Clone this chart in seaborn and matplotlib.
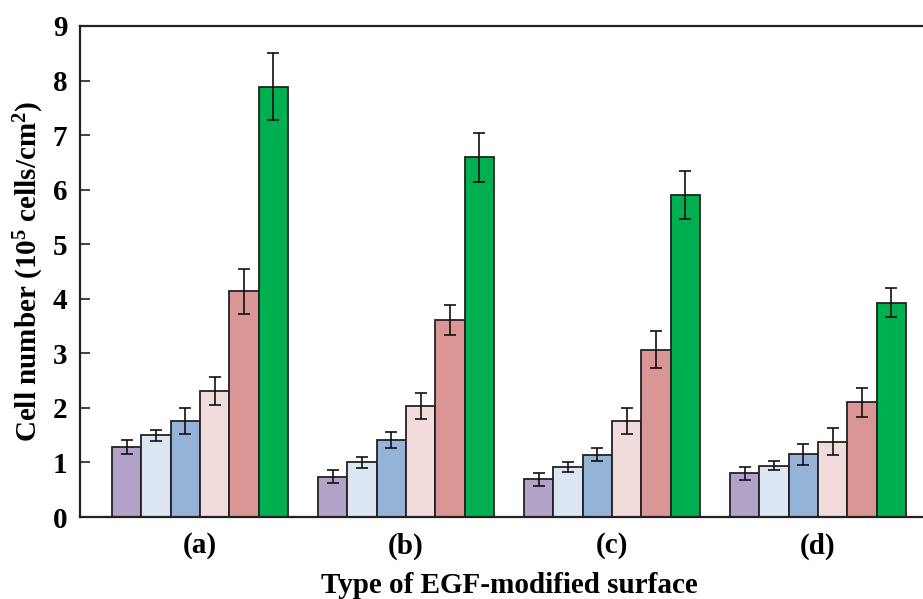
import matplotlib
matplotlib.use("Agg")
import matplotlib.pyplot as plt
import seaborn as sns
import pandas as pd

groups = ["(a)", "(b)", "(c)", "(d)"]
series = ["S1", "S2", "S3", "S4", "S5", "S6"]
colors = ["#b3a2c7", "#dce6f2", "#95b3d7", "#f2dcdb", "#d99694", "#00b050"]

values = {
    "S1": [1.29, 0.74, 0.69, 0.80],
    "S2": [1.50, 1.00, 0.91, 0.94],
    "S3": [1.76, 1.41, 1.14, 1.15],
    "S4": [2.31, 2.03, 1.76, 1.38],
    "S5": [4.14, 3.61, 3.07, 2.10],
    "S6": [7.89, 6.59, 5.91, 3.93],
}
errors = {
    "S1": [0.13, 0.125, 0.12, 0.125],
    "S2": [0.10, 0.10, 0.09, 0.08],
    "S3": [0.23, 0.14, 0.12, 0.195],
    "S4": [0.26, 0.24, 0.24, 0.25],
    "S5": [0.41, 0.28, 0.34, 0.26],
    "S6": [0.62, 0.455, 0.44, 0.265],
}
yticks = [0, 1, 2, 3, 4, 5, 6, 7, 8, 9]

sns.set_theme(style="white")
plt.rcParams["font.family"] = ["Liberation Serif", "DejaVu Serif"]
plt.rcParams["font.weight"] = "bold"
plt.rcParams["text.color"] = "black"
plt.rcParams["axes.labelcolor"] = "black"
plt.rcParams["xtick.color"] = "black"
plt.rcParams["ytick.color"] = "black"
plt.rcParams["mathtext.fontset"] = "custom"
plt.rcParams["mathtext.rm"] = "Liberation Serif:bold"
plt.rcParams["mathtext.bf"] = "Liberation Serif:bold"
plt.rcParams["mathtext.default"] = "bf"

rows = []
for s in series:
    for g, v in zip(groups, values[s]):
        rows.append({"group": g, "series": s, "value": v})
df = pd.DataFrame(rows)

fig = plt.figure(figsize=(9.23, 5.99), dpi=100)
ax = fig.add_axes([80 / 923, 82 / 599, 858 / 923, 491 / 599])

sns.barplot(data=df, x="group", y="value", hue="series", order=groups,
            hue_order=series, palette=colors, width=0.855, gap=0,
            edgecolor="#222222", linewidth=1.3, errorbar=None,
            legend=False, ax=ax, saturation=1)

for cont, s in zip(ax.containers, series):
    xs = [b.get_x() + b.get_width() / 2 for b in cont]
    ax.errorbar(xs, values[s], yerr=errors[s], fmt="none", ecolor="#111111",
                elinewidth=1.2, capsize=4, capthick=1.2, zorder=5)

ax.set_xlim(-0.583, 3.583)
ax.set_ylim(0, 9)
ax.set_yticks(yticks)
ax.set_yticklabels([str(t) for t in yticks])
ax.tick_params(axis="y", direction="in", length=7, width=1.2, pad=9,
               labelsize=21, left=True, color="#222222", labelcolor="black")
ax.tick_params(axis="x", length=0, pad=11, labelsize=21, labelcolor="black")
for lbl in ax.get_xticklabels() + ax.get_yticklabels():
    lbl.set_fontweight("bold")

for side in ["left", "top", "bottom"]:
    ax.spines[side].set_visible(True)
    ax.spines[side].set_color("#222222")
    ax.spines[side].set_linewidth(1.6)
ax.spines["right"].set_visible(False)

ax.set_xlabel("Type of EGF-modified surface", fontsize=21, fontweight="bold",
              labelpad=9, color="black")
ax.set_ylabel(r"Cell number (10$^{5}$ cells/cm$^{2}$)", fontsize=21,
              fontweight="bold", labelpad=5, color="black")

fig.savefig("out.png", dpi=100)
